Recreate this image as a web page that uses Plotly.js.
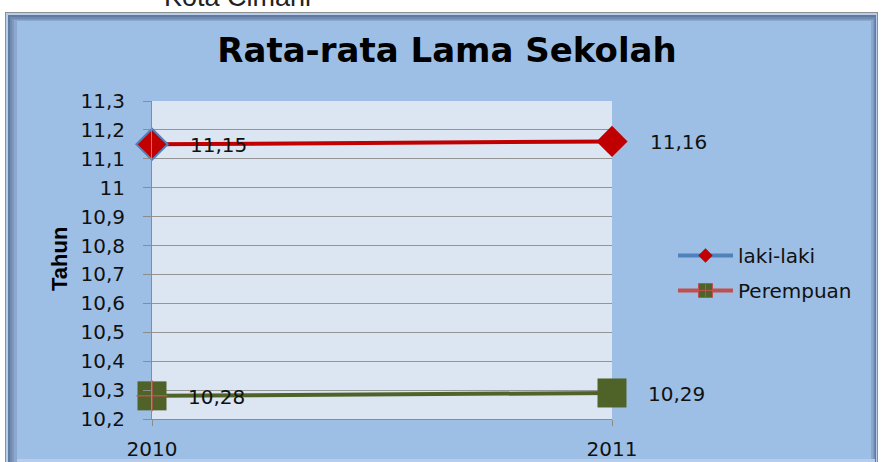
<!DOCTYPE html>
<html>
<head>
<meta charset="utf-8">
<script src="https://cdn.plot.ly/plotly-3.0.1.min.js"></script>
<style>
html,body{margin:0;padding:0;background:#fff;}
#chart{width:881px;height:462px;}
</style>
</head>
<body>
<div id="chart"></div>
<script>
// ---- data ----
const years = ['2010', '2011'];
const lakiLaki = [11.15, 11.16];
const perempuan = [10.28, 10.29];
const seriesNames = ['laki-laki', 'Perempuan'];
const chartTitle = 'Rata-rata Lama Sekolah';
const supTitle = 'Kota Cimahi';
const yTitle = 'Tahun';

// ---- layout geometry (pixels) ----
const W = 881, H = 462;
const L = 152, R = 612, T = 101, B = 419;
const pw = R - L, ph = B - T;
const px = x => (x - L) / pw;
const py = y => (B - y) / ph;

function rect(x0, y0, x1, y1, color) {
  return {type: 'rect', xref: 'paper', yref: 'paper', layer: 'below',
    x0: px(x0), x1: px(x1), y0: py(y1), y1: py(y0),
    fillcolor: color, line: {width: 0}};
}

const fmt = v => String(v).replace('.', ',');

const RED = '#C00000', GREEN = '#4F6228', BLUE = '#4F81BD', LRED = '#C0504D';

const traces = [
  {
    x: years, y: lakiLaki, type: 'scatter', mode: 'lines+markers',
    showlegend: false, cliponaxis: false, hoverinfo: 'skip',
    line: {color: RED, width: 4},
    marker: {symbol: 'diamond', size: 24, color: RED,
      line: {color: BLUE, width: [2, 0]}}
  },
  {
    x: years, y: perempuan, type: 'scatter', mode: 'lines+markers',
    showlegend: false, cliponaxis: false, hoverinfo: 'skip',
    line: {color: GREEN, width: 4},
    marker: {symbol: 'square', size: 29, color: GREEN, line: {width: 0}}
  },
  {
    x: years, y: perempuan, type: 'scatter', mode: 'markers',
    showlegend: false, cliponaxis: false, hoverinfo: 'skip',
    marker: {symbol: 'cross-thin', size: 22, opacity: [1, 0],
      line: {color: LRED, width: 1.5}}
  },
  // legend entries
  {
    x: [null], y: [null], type: 'scatter', mode: 'lines+markers',
    name: seriesNames[0], legendgroup: 'a',
    line: {color: BLUE, width: 4},
    marker: {symbol: 'diamond', size: 11, color: RED, line: {width: 0}}
  },
  {
    x: [null], y: [null], type: 'scatter', mode: 'lines+markers',
    name: seriesNames[1], legendgroup: 'b',
    line: {color: LRED, width: 4},
    marker: {symbol: 'square-cross', size: 14, color: GREEN, line: {color: LRED, width: 1}}
  }
];

const annotations = [];
years.forEach((yr, i) => {
  annotations.push({x: i, y: lakiLaki[i], xref: 'x', yref: 'y', text: fmt(lakiLaki[i]),
    showarrow: false, xanchor: 'left', yanchor: 'middle', xshift: 36, yshift: -1,
    font: {family: 'DejaVu Sans', size: 20, color: '#111'}});
  annotations.push({x: i, y: perempuan[i], xref: 'x', yref: 'y', text: fmt(perempuan[i]),
    showarrow: false, xanchor: 'left', yanchor: 'middle', xshift: 34, yshift: -1,
    font: {family: 'DejaVu Sans', size: 20, color: '#111'}});
});
annotations.push({x: px(237), y: py(14), xref: 'paper', yref: 'paper', text: supTitle,
  showarrow: false, xanchor: 'center', yanchor: 'bottom',
  font: {family: 'Liberation Sans', size: 27, color: '#222'}});
annotations.push({x: px(59), y: py(259), xref: 'paper', yref: 'paper', text: '<b>' + yTitle + '</b>',
  showarrow: false, xanchor: 'center', yanchor: 'middle', textangle: -90,
  font: {family: 'Liberation Sans Narrow, Liberation Sans', size: 22, color: '#000'}});

const shapes = [
  rect(5, 12, 878, 470, '#8E8E8E'),
  rect(6, 13, 877, 470, '#B7CFEC'),
  rect(8, 15, 876, 470, '#5F7A9E'),
  rect(10, 17, 875, 470, '#6F8BB0'),
  rect(12, 19, 874, 470, '#8098BC'),
  rect(14, 20, 873, 470, '#8DA8CE'),
  rect(17, 21, 871, 459, '#9DBFE5'),
  rect(17, 459, 875, 470, '#B6CEEB'),
  rect(L, T, R, B, '#DCE6F2')
];

const layout = {
  width: W, height: H,
  margin: {l: L, r: W - R, t: T, b: H - B, pad: 0},
  paper_bgcolor: '#ffffff',
  plot_bgcolor: '#DCE6F2',
  separators: ',.',
  title: {text: '<b>' + chartTitle + '</b>', xref: 'paper', yref: 'paper',
    x: px(447), xanchor: 'center', y: py(53), yanchor: 'middle',
    font: {family: 'DejaVu Sans', size: 34, color: '#000'}},
  xaxis: {type: 'category', range: [0, 1], showgrid: false,
    showline: true, linecolor: '#8C8C8C', linewidth: 1,
    ticks: 'outside', ticklen: 6, tickcolor: '#8C8C8C', ticklabelstandoff: 6,
    tickfont: {family: 'DejaVu Sans', size: 20, color: '#111'}, zeroline: false, fixedrange: true},
  yaxis: {range: [10.2, 11.3], dtick: 0.1, tick0: 10.2,
    showgrid: true, gridcolor: '#959595', gridwidth: 1,
    showline: true, linecolor: '#8C8C8C', linewidth: 1,
    ticks: 'outside', ticklen: 8, tickcolor: '#8C8C8C', ticklabelstandoff: 14,
    tickfont: {family: 'DejaVu Sans', size: 20, color: '#111'}, zeroline: false, fixedrange: true},
  showlegend: true,
  legend: {x: px(673), xanchor: 'left', y: py(236), yanchor: 'top', itemwidth: 55,
    bgcolor: 'rgba(0,0,0,0)', borderwidth: 0, traceorder: 'grouped', tracegroupgap: 6,
    font: {family: 'DejaVu Sans', size: 20, color: '#111'}},
  shapes: shapes,
  annotations: annotations
};

Plotly.newPlot('chart', traces, layout, {staticPlot: true, displayModeBar: false});
</script>
</body>
</html>
